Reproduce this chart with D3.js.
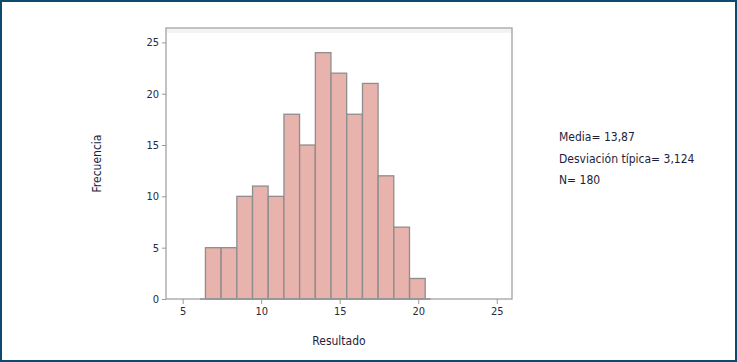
<!DOCTYPE html>
<html>
<head>
<meta charset="utf-8">
<script src="https://cdn.jsdelivr.net/npm/d3@7"></script>
<style>
  html, body { margin: 0; padding: 0; background: #fff; }
  svg { display: block; }
  .tick text { font-family: "Liberation Sans Narrow", "DejaVu Sans Condensed", sans-serif; font-size: 11px; fill: #2a2a3a; }
  .label { font-family: "Liberation Sans Narrow", "DejaVu Sans Condensed", sans-serif; font-size: 12px; fill: #1e1e3c; }
</style>
</head>
<body>
<script>
// histogram data: score (bin centre) and frequency
var scores = [7, 8, 9, 10, 11, 12, 13, 14, 15, 16, 17, 18, 19, 20];
var counts = [5, 5, 10, 11, 10, 18, 15, 24, 22, 18, 21, 12, 7, 2];
var xTicks = [5, 10, 15, 20, 25];
var yTicks = [0, 5, 10, 15, 20, 25];
var stats = ['Media= 13,87', 'Desviación típica= 3,124', 'N= 180'];

var W = 737, H = 362;
var margin = {top: 28, right: 225, bottom: 63, left: 166};
var width = W - margin.left - margin.right;
var height = H - margin.top - margin.bottom;

var svg = d3.select('body').append('svg')
	.attr('width', W)
	.attr('height', H);

// outer border
svg.append('rect')
	.attr('x', 1).attr('y', 1)
	.attr('width', W - 2).attr('height', H - 2)
	.attr('fill', 'none')
	.attr('stroke', '#0c4a6e')
	.attr('stroke-width', 2);

var g = svg.append('g')
	.attr('transform', 'translate(' + margin.left + ',' + margin.top + ')');

// scales
var xScale = d3.scaleLinear().domain([3.94, 25.97]).range([0, width]);
var yScale = d3.scaleLinear().domain([0, 26.4]).range([height, 0]);

// faint top shadow of the frame
g.append('rect')
	.attr('x', 1).attr('y', 1)
	.attr('width', width - 1).attr('height', 4)
	.attr('fill', '#f3f3f3');

// bars
var binOffset = -0.55, binWidth = 0.993;
g.selectAll('.bar')
	.data(scores)
	.enter().append('rect')
	.attr('class', 'bar')
	.attr('x', function(d){ return xScale(d + binOffset); })
	.attr('width', function(d){ return xScale(d + binOffset + binWidth) - xScale(d + binOffset); })
	.attr('y', function(d, i){ return yScale(counts[i]); })
	.attr('height', function(d, i){ return height - yScale(counts[i]); })
	.attr('fill', '#e8b2ad')
	.attr('stroke', '#8e8e8e')
	.attr('stroke-width', 1.3);

// baseline under bars
g.append('line')
	.attr('x1', xScale(scores[0] + binOffset - 0.35))
	.attr('x2', xScale(scores[scores.length - 1] + binOffset + binWidth + 0.35))
	.attr('y1', height).attr('y2', height)
	.attr('stroke', '#7a7a7a')
	.attr('stroke-width', 1.5);

// frame
g.append('rect')
	.attr('x', 0).attr('y', 0)
	.attr('width', width).attr('height', height)
	.attr('fill', 'none')
	.attr('stroke', '#a2a2a2')
	.attr('stroke-width', 1.3);

// axes
var xAxis = d3.axisBottom(xScale).tickValues(xTicks).tickSize(5).tickPadding(3);
var yAxis = d3.axisLeft(yScale).tickValues(yTicks).tickSize(4).tickPadding(3);

var gx = g.append('g')
	.attr('class', 'x axis')
	.attr('transform', 'translate(0,' + height + ')')
	.call(xAxis);
gx.select('.domain').remove();
gx.selectAll('.tick line').attr('stroke', '#999');

var gy = g.append('g')
	.attr('class', 'y axis')
	.call(yAxis);
gy.select('.domain').remove();
gy.selectAll('.tick line').attr('stroke', '#999');

// axis titles
svg.append('text')
	.attr('class', 'label')
	.attr('text-anchor', 'middle')
	.attr('transform', 'translate(101,' + (margin.top + height / 2) + ') rotate(-90)')
	.text('Frecuencia');

svg.append('text')
	.attr('class', 'label')
	.attr('text-anchor', 'middle')
	.attr('x', margin.left + width / 2)
	.attr('y', 345)
	.text('Resultado');

// summary statistics
svg.selectAll('.stat')
	.data(stats)
	.enter().append('text')
	.attr('class', 'label stat')
	.attr('x', 559)
	.attr('y', function(d, i){ return 141 + i * 21.5; })
	.text(function(d){ return d; });
</script>
</body>
</html>
